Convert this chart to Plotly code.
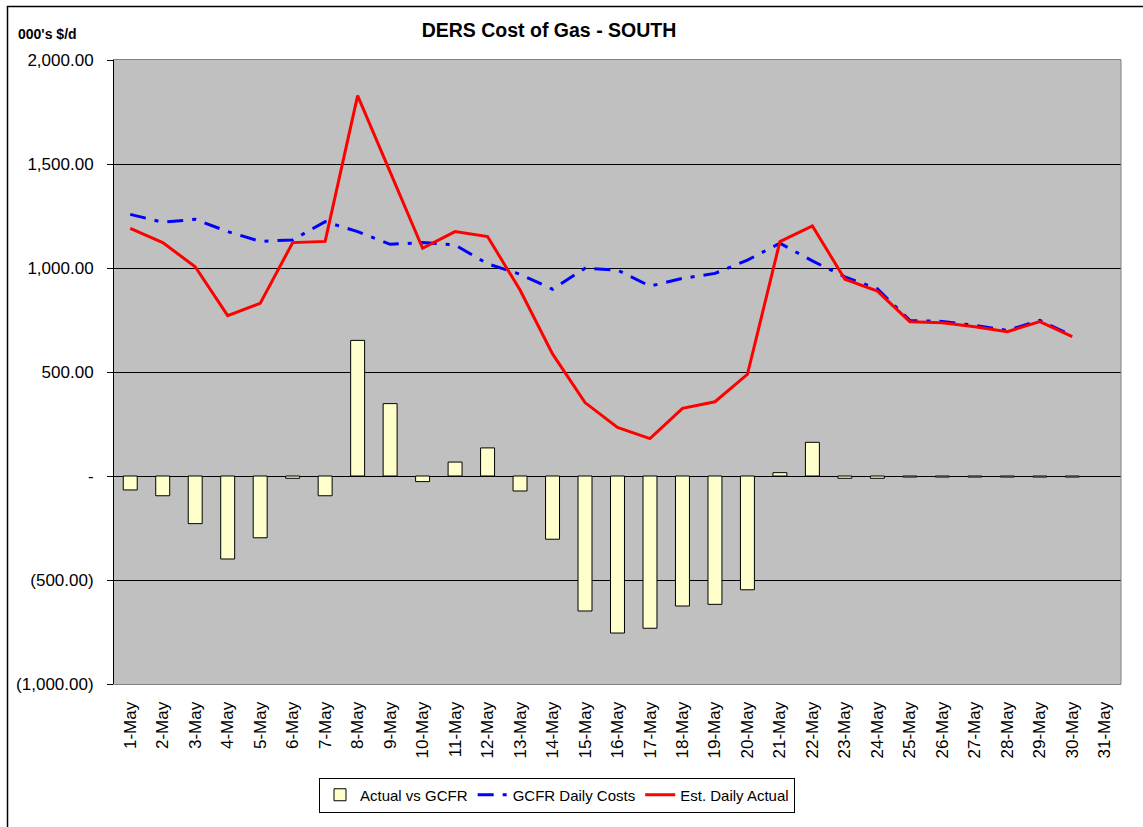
import plotly.graph_objects as go

days = ["1-May", "2-May", "3-May", "4-May", "5-May", "6-May", "7-May", "8-May",
        "9-May", "10-May", "11-May", "12-May", "13-May", "14-May", "15-May",
        "16-May", "17-May", "18-May", "19-May", "20-May", "21-May", "22-May",
        "23-May", "24-May", "25-May", "26-May", "27-May", "28-May", "29-May",
        "30-May", "31-May"]

actual_vs_gcfr = [-67, -95, -229, -399, -297, -11, -95, 652, 348, -27, 67, 135,
                  -72, -304, -649, -755, -732, -625, -617, -547, 16, 162, -11,
                  -11, -5, -5, -5, -5, -5, -5, None]

gcfr_daily = [1258, 1220, 1234, 1175, 1128, 1135, 1223, 1175, 1114, 1122, 1111,
              1020, 970, 898, 999, 990, 913, 950, 974, 1038, 1119, 1034, 957,
              900, 748, 743, 724, 700, 748, 675, None]

est_daily = [1191, 1122, 1006, 771, 830, 1122, 1128, 1829, 1462, 1095, 1175,
             1151, 894, 587, 353, 234, 180, 325, 357, 489, 1127, 1202, 946, 889,
             742, 737, 718, 694, 742, 670, None]

y_tick_vals = [2000, 1500, 1000, 500, 0, -500, -1000]
y_tick_text = ["2,000.00", "1,500.00", "1,000.00", "500.00", "-", "(500.00)", "(1,000.00)"]

FONT = "Liberation Sans, Arial, sans-serif"

W, H = 1143, 827
L, R, T, B = 114, 22, 60, 143
pw, ph = W - L - R, H - T - B

def px_x(p):
    return (p - L) / pw

def px_y(p):
    return (H - B - p) / ph

fig = go.Figure()
fig.add_trace(go.Bar(
    x=days, y=actual_vs_gcfr, name="Actual vs GCFR",
    marker=dict(color="#FFFFCC", line=dict(color="black", width=1)),
    width=0.43,
))
fig.add_trace(go.Scatter(
    x=days, y=gcfr_daily, name="GCFR Daily Costs", mode="lines",
    line=dict(color="#0000FF", width=3, dash="16px,9px,4px,9px"),
))
fig.add_trace(go.Scatter(
    x=days, y=est_daily, name="Est. Daily Actual", mode="lines",
    line=dict(color="#FF0000", width=3),
))

zero_pos = (0 - (-1000)) / 3000

fig.update_layout(
    width=W, height=H, autosize=False,
    margin=dict(l=L, r=R, t=T, b=B),
    paper_bgcolor="white",
    plot_bgcolor="#C0C0C0",
    font=dict(family=FONT, color="black"),
    showlegend=True,
    title=dict(
        text="DERS Cost of Gas - SOUTH",
        font=dict(family=FONT, size=19.5, weight="bold", color="black"),
        x=549 / W, xref="container", xanchor="center",
        y=1 - 30 / H, yref="container", yanchor="middle",
    ),
    legend=dict(
        orientation="h", x=px_x(557), xanchor="center",
        y=px_y(795), yanchor="middle",
        bgcolor="white", bordercolor="black", borderwidth=1,
        font=dict(family=FONT, size=15, color="black"),
        traceorder="normal",
    ),
    xaxis=dict(
        type="category", categoryorder="array", categoryarray=days,
        range=[-0.5, 30.5],
        tickangle=-90, ticks="", showgrid=False,
        showline=True, linecolor="#808080", linewidth=1, mirror=True,
        tickfont=dict(family=FONT, size=17, color="black"),
        ticklabelstandoff=10,
        zeroline=False,
    ),
    xaxis2=dict(
        overlaying="x", anchor="free", position=zero_pos, side="bottom",
        range=[-0.5, 30.5], showgrid=False, zeroline=False,
        tickmode="array", tickvals=[i - 0.5 for i in range(32)],
        ticks="outside", ticklen=6, tickcolor="black", tickwidth=1,
        showticklabels=False, showline=True, linecolor="black", linewidth=1,
    ),
    yaxis=dict(
        range=[-1000, 2000],
        tickmode="array", tickvals=y_tick_vals, ticktext=y_tick_text,
        ticks="outside", ticklen=6, tickcolor="black",
        showgrid=True, gridcolor="black", gridwidth=1,
        zeroline=True, zerolinecolor="black", zerolinewidth=1,
        showline=True, linecolor="black", linewidth=1,
        tickfont=dict(family=FONT, size=17, color="black"),
        ticklabelstandoff=10,
    ),
    bargap=0.57,
)

# plot-area right border and outer chart frame
fig.add_shape(type="line", xref="paper", yref="paper", x0=1, x1=1, y0=0, y1=1,
              line=dict(color="#808080", width=1), layer="above")
fig.add_shape(type="rect", xref="paper", yref="paper",
              x0=px_x(7.5), x1=px_x(W + 20), y0=px_y(H + 20), y1=px_y(6.5),
              line=dict(color="black", width=1.5), layer="above")

fig.add_annotation(
    text="000's $/d", xref="paper", yref="paper",
    x=px_x(15.5), y=px_y(33.5), xanchor="left", yanchor="middle",
    showarrow=False, font=dict(family=FONT, size=14, weight="bold", color="black"),
)

fig.write_html(
    "out.html",
    config={"displayModeBar": False},
    post_script="document.body.style.margin='0px';document.body.style.overflow='hidden';",
)
